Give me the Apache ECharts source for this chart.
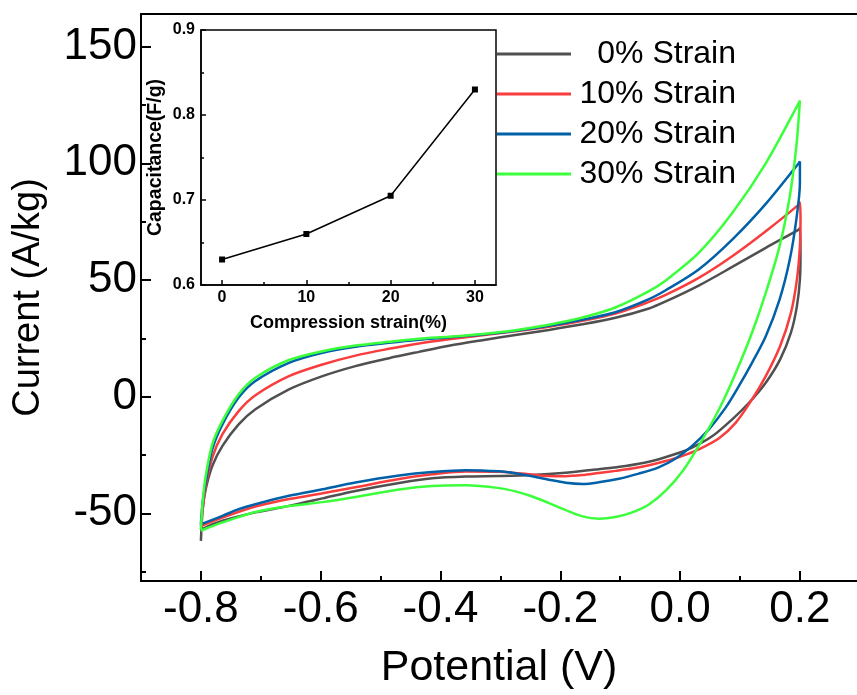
<!DOCTYPE html>
<html><head><meta charset="utf-8">
<script src="https://cdn.jsdelivr.net/npm/echarts@6/dist/echarts.min.js"></script>
<style>html,body{margin:0;padding:0;background:#fff}#c{width:857px;height:695px}</style>
</head><body><div id="c"></div>
<script>
// ---- data ----
const seriesNames = ['0% Strain', '10% Strain', '20% Strain', '30% Strain'];

// [potential (V), current (A/kg)] along the CV loop
const strain0 = [
  [-0.8,-61.8],[-0.797,-48.2],[-0.792,-39.7],[-0.781,-29.7],[-0.764,-21.1],[-0.737,-11.9],[-0.709,-5.4],
  [-0.653,3.1],[-0.597,8.8],[-0.542,13.1],[-0.486,16.5],[-0.436,19.2],[-0.386,21.8],[-0.33,24.2],
  [-0.275,26.4],[-0.219,28.6],[-0.163,31.0],[-0.108,33.8],[-0.052,37.8],[-0.024,40.8],[0.031,47.6],
  [0.087,55.6],[0.143,63.8],[0.198,71.6],[0.2,72.3],
  [0.201,61.6],[0.2,50.2],[0.195,38.8],[0.185,27.4],[0.167,16],[0.143,6],[0.115,-2.6],[0.087,-9.7],
  [0.054,-16.9],[0.02,-21.8],[-0.013,-25.0],[-0.052,-27.9],[-0.091,-29.7],[-0.136,-31.1],[-0.191,-32.6],
  [-0.247,-33.6],[-0.302,-34],[-0.358,-34.2],[-0.414,-35],[-0.469,-37],[-0.542,-40.4],
  [-0.597,-43.6],[-0.653,-46.8],[-0.709,-49.6],[-0.764,-53.2],[-0.792,-56],[-0.8,-57.1]
];
const strain10 = [
  [-0.8,-55.6],[-0.797,-48.2],[-0.792,-38.3],[-0.781,-26.1],[-0.764,-16.1],[-0.737,-6.2],[-0.709,0.6],
  [-0.653,8.8],[-0.597,13.8],[-0.542,17.6],[-0.486,20.5],[-0.436,22.8],[-0.386,24.6],[-0.33,26.3],
  [-0.275,28.0],[-0.219,30.0],[-0.163,32.5],[-0.108,35.6],[-0.052,40.6],[-0.024,43.6],[0.031,50.9],
  [0.087,60.2],[0.143,70.9],[0.198,82.3],[0.2,83.3],
  [0.201,75.9],[0.2,64.4],[0.195,50.2],[0.185,35.9],[0.167,21.7],[0.143,8.8],[0.12,-1.2],[0.093,-11.1],
  [0.065,-17.8],[0.031,-22.6],[0.004,-25.4],[-0.024,-27.6],[-0.052,-29.4],[-0.08,-30.8],[-0.108,-31.8],
  [-0.136,-32.7],[-0.163,-33.6],[-0.191,-34.1],[-0.219,-34],[-0.247,-33.4],[-0.275,-32.7],[-0.302,-32.2],
  [-0.358,-32.1],[-0.414,-33.3],[-0.469,-35.3],[-0.542,-38.8],[-0.597,-41.4],[-0.653,-43.9],
  [-0.709,-47.1],[-0.764,-51.8],[-0.792,-54.6],[-0.8,-55.6]
];
const strain20 = [
  [-0.8,-54.6],[-0.797,-45],[-0.792,-36.8],[-0.781,-22.6],[-0.764,-11.9],[-0.737,-0.4],[-0.709,6.7],
  [-0.653,14.5],[-0.597,18.8],[-0.542,21.4],[-0.486,23.1],[-0.436,24.4],[-0.386,25.4],[-0.33,26.6],
  [-0.275,28.2],[-0.219,30.4],[-0.163,33.0],[-0.108,36.2],[-0.052,41.8],[-0.024,45.6],[0.031,54.5],
  [0.087,67.3],[0.143,82.6],[0.198,100],[0.2,100.8],
  [0.2,91.8],[0.194,75.9],[0.183,58.7],[0.166,41.6],[0.143,25.9],[0.12,14.5],[0.098,4.5],[0.076,-4.7],
  [0.048,-14],[0.02,-21.1],[-0.008,-26.6],[-0.036,-30.3],[-0.069,-33.0],[-0.102,-35.2],[-0.136,-36.7],
  [-0.163,-37.4],[-0.191,-36.9],[-0.219,-35.6],[-0.247,-34.1],[-0.275,-32.8],[-0.302,-32.0],[-0.358,-31.5],
  [-0.414,-32.3],[-0.469,-33.8],[-0.542,-36.8],[-0.597,-39.7],[-0.653,-42.5],[-0.709,-46.1],[-0.737,-48.2],
  [-0.764,-51.1],[-0.792,-53.9],[-0.8,-54.6]
];
const strain30 = [
  [-0.8,-57],[-0.797,-45],[-0.792,-34],[-0.781,-20.4],[-0.764,-10.4],[-0.737,1],[-0.709,8.1],
  [-0.653,15.7],[-0.597,19.5],[-0.542,21.9],[-0.486,23.5],[-0.436,24.8],[-0.386,25.7],[-0.33,26.9],
  [-0.275,28.5],[-0.219,30.8],[-0.163,33.9],[-0.108,38.2],[-0.052,45.2],[-0.024,49.8],[0.031,61.6],
  [0.087,78.7],[0.143,100],[0.198,125.8],[0.2,126.9],
  [0.194,107.2],[0.183,85.8],[0.166,64.4],[0.143,44.5],[0.12,27.4],[0.093,10.3],[0.065,-5.4],[0.031,-21.1],
  [0.004,-32.0],[-0.024,-40.3],[-0.052,-46.2],[-0.08,-49.6],[-0.108,-51.6],[-0.136,-52.3],[-0.163,-51.3],
  [-0.191,-48.6],[-0.219,-45.6],[-0.247,-42.8],[-0.275,-40.6],[-0.302,-39.2],[-0.358,-38],[-0.414,-38.3],
  [-0.469,-39.8],[-0.542,-43.0],[-0.597,-45.2],[-0.653,-46.9],[-0.709,-49.4],[-0.737,-51.6],[-0.764,-53.9],
  [-0.792,-56.6],[-0.8,-57.5]
];

const xMajorTicks = [-0.8, -0.6, -0.4, -0.2, 0.0, 0.2];
const xMinorTicks = [-0.7, -0.5, -0.3, -0.1, 0.1];
const yMajorTicks = [-50, 0, 50, 100, 150];
const yMinorTicks = [-75, -25, 25, 75, 125];

// inset
const insetStrain = [0, 10, 20, 30];
const insetCapacitance = [0.63, 0.66, 0.705, 0.83];
const insetXTicks = [0, 10, 20, 30];
const insetXMinorTicks = [5, 15, 25];

// ---- chart ----
const FONT = "'Liberation Sans', Arial, sans-serif";
const colors = ['#505050', '#f93d3d', '#0060a8', '#3cff3c'];
const curves = [strain0, strain10, strain20, strain30];
const XMIN = -0.9, XMAX = 0.2953, YMIN = -79, YMAX = 164;

const chart = echarts.init(document.getElementById('c'), null, {renderer: 'canvas'});

const blackLine = {color: '#000', width: 2};

const option = {
  animation: false,
  backgroundColor: '#fff',
  grid: [
    {left: 141, top: 14, right: 0, bottom: 113},
    {left: 201, top: 30, width: 295, height: 255, show: true, borderColor: '#000', borderWidth: 1.5, backgroundColor: 'transparent'}
  ],
  legend: {
    data: seriesNames,
    orient: 'vertical',
    left: 492, top: 33,
    icon: 'rect',
    itemWidth: 74, itemHeight: 3, itemGap: 8,
    formatter: n => '{r|' + n + '}',
    textStyle: {
      rich: {r: {width: 160, align: 'right', fontSize: 32, lineHeight: 32, fontFamily: FONT, color: '#000'}}
    }
  },
  xAxis: [
    {
      gridIndex: 0, type: 'value', min: XMIN, max: XMAX, position: 'bottom',
      axisLine: {show: true, onZero: false, lineStyle: blackLine},
      axisTick: {show: true, inside: true, length: 10, customValues: xMajorTicks, lineStyle: blackLine},
      axisLabel: {customValues: xMajorTicks, formatter: v => v.toFixed(1), fontSize: 44, color: '#000', margin: 7, fontFamily: FONT},
      splitLine: {show: false},
      name: 'Potential (V)', nameLocation: 'middle', nameGap: 66,
      nameTextStyle: {fontSize: 43, color: '#000', fontFamily: FONT}
    },
    {
      gridIndex: 0, type: 'value', min: XMIN, max: XMAX, position: 'bottom',
      axisLine: {show: false, onZero: false},
      axisTick: {show: true, inside: true, length: 5, customValues: xMinorTicks, lineStyle: blackLine},
      axisLabel: {show: false}, splitLine: {show: false}
    },
    {
      gridIndex: 0, type: 'value', min: XMIN, max: XMAX, position: 'top',
      axisLine: {show: true, onZero: false, lineStyle: blackLine},
      axisTick: {show: false}, axisLabel: {show: false}, splitLine: {show: false}
    },
    {
      gridIndex: 1, type: 'value', min: -2.5, max: 32.5, position: 'bottom',
      axisLine: {show: true, onZero: false, lineStyle: {color: '#000', width: 1.5}},
      axisTick: {show: true, inside: true, length: 5, customValues: insetXTicks, lineStyle: {color: '#000', width: 1.5}},
      axisLabel: {customValues: insetXTicks, fontSize: 16, fontWeight: 'bold', color: '#000', margin: 5, fontFamily: FONT},
      splitLine: {show: false},
      name: 'Compression strain(%)', nameLocation: 'middle', nameGap: 29,
      nameTextStyle: {fontSize: 18, fontWeight: 'bold', color: '#000', fontFamily: FONT}
    },
    {
      gridIndex: 1, type: 'value', min: -2.5, max: 32.5, position: 'bottom',
      axisLine: {show: false, onZero: false},
      axisTick: {show: true, inside: true, length: 3, customValues: insetXMinorTicks, lineStyle: {color: '#000', width: 1.5}},
      axisLabel: {show: false}, splitLine: {show: false}
    }
  ],
  yAxis: [
    {
      gridIndex: 0, type: 'value', min: YMIN, max: YMAX, position: 'left',
      axisLine: {show: true, onZero: false, lineStyle: blackLine},
      axisTick: {show: true, inside: true, length: 10, customValues: yMajorTicks, lineStyle: blackLine},
      axisLabel: {customValues: yMajorTicks, fontSize: 44, color: '#000', margin: 4, fontFamily: FONT},
      splitLine: {show: false},
      name: 'Current (A/kg)', nameLocation: 'middle', nameGap: 93, nameRotate: 90,
      nameTextStyle: {fontSize: 38, color: '#000', fontFamily: FONT}
    },
    {
      gridIndex: 0, type: 'value', min: YMIN, max: YMAX, position: 'left',
      axisLine: {show: false, onZero: false},
      axisTick: {show: true, inside: true, length: 5, customValues: yMinorTicks, lineStyle: blackLine},
      axisLabel: {show: false}, splitLine: {show: false}
    },
    {
      gridIndex: 1, type: 'value', min: 0.6, max: 0.9, interval: 0.1, position: 'left',
      axisLine: {show: true, onZero: false, lineStyle: {color: '#000', width: 1.5}},
      axisTick: {show: true, inside: true, length: 5, lineStyle: {color: '#000', width: 1.5}},
      minorTick: {show: true, splitNumber: 2, length: 3, lineStyle: {color: '#000', width: 1.5}},
      axisLabel: {formatter: v => v.toFixed(1), fontSize: 16, fontWeight: 'bold', color: '#000', margin: 6, fontFamily: FONT},
      splitLine: {show: false},
      name: 'Capacitance(F/g)', nameLocation: 'middle', nameGap: 35, nameRotate: 90,
      nameTextStyle: {fontSize: 19.5, fontWeight: 'bold', color: '#000', fontFamily: FONT}
    }
  ],
  series: curves.map((d, i) => ({
    name: seriesNames[i], type: 'line', xAxisIndex: 0, yAxisIndex: 0,
    data: d, showSymbol: false, symbol: 'none', smooth: 0.3,
    lineStyle: {color: colors[i], width: 2.5}, itemStyle: {color: colors[i]}, z: 2 + i
  })).concat([{
    name: 'Capacitance', type: 'line', xAxisIndex: 3, yAxisIndex: 2,
    data: insetStrain.map((s, i) => [s, insetCapacitance[i]]),
    symbol: 'rect', symbolSize: 6,
    lineStyle: {color: '#000', width: 1.5}, itemStyle: {color: '#000'}, z: 10
  }])
};
chart.setOption(option);
</script>
</body></html>
